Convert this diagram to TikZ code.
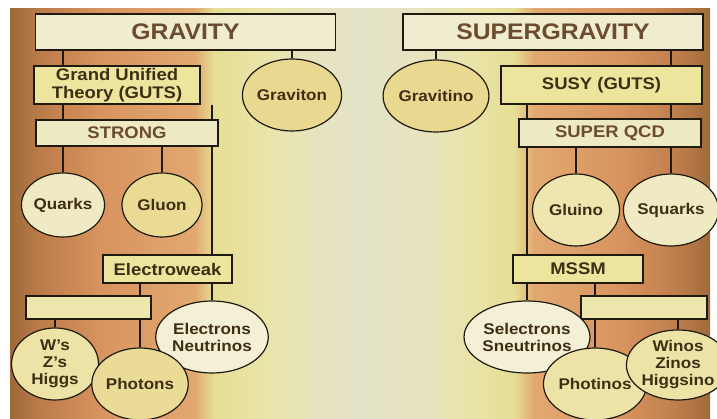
\documentclass[tikz,border=0pt]{standalone}
\usepackage{fontspec}
\setmainfont{Liberation Sans}[FakeStretch=1.1]
\usetikzlibrary{shapes.geometric}
\definecolor{ink}{HTML}{3E2E14}
\definecolor{titlebrown}{HTML}{6B4C30}
\definecolor{paleframe}{HTML}{F0ECD0}
\definecolor{yellowframe}{HTML}{EDE49E}
\definecolor{creamframe}{HTML}{EEEAC4}
\definecolor{blobfill}{HTML}{EDE3A6}
\definecolor{blobcream}{HTML}{EFEAC4}
\definecolor{blobgold}{HTML}{E8D890}
\definecolor{wire}{HTML}{1E1A12}
\definecolor{shA}{HTML}{9E6A3A}
\definecolor{shB}{HTML}{BC7C4A}
\definecolor{shC}{HTML}{D8945E}
\definecolor{shD}{HTML}{E2A870}
\definecolor{shE}{HTML}{E4C482}
\definecolor{shF}{HTML}{E6DE94}
\definecolor{shG}{HTML}{E8E4A8}
\definecolor{shH}{HTML}{E6E4C0}
\definecolor{shI}{HTML}{E4E2C6}
\pgfdeclarelayer{bg}
\pgfdeclarelayer{wires}
\pgfsetlayers{bg,wires,main}

\begin{document}
\begin{tikzpicture}[x=1pt, y=-1pt,
    every node/.style={font=\bfseries\fontsize{15.5}{17}\selectfont, text=ink},
    frame/.style={draw=wire, line width=1.3pt, fill=creamframe, inner sep=0pt,
      font=\bfseries\fontsize{16.8}{18}\selectfont},
    headframe/.style={frame, fill=paleframe, minimum width=300pt, minimum height=36pt,
      font=\bfseries\fontsize{22.5}{24}\selectfont, text=titlebrown},
    blob/.style={ellipse, draw=wire, line width=1.2pt, fill=blobfill,
      inner sep=0pt, align=center, minimum width=87pt, minimum height=72pt},
    link/.style={line width=2.4pt, wire}
]
  \useasboundingbox (0,0) rectangle (717,419);
  % background: strips blended between colour stops
  \begin{pgfonlayer}{bg}
    \clip (10,8) rectangle (710,419);
    \foreach \xa/\xb/\ca/\cb in {10/40/shA/shB, 40/100/shB/shC, 100/195/shC/shD,
        195/205/shD/shE, 205/214/shE/shF, 214/260/shF/shG, 260/320/shG/shH,
        320/360/shH/shI, 360/420/shI/shH, 420/470/shH/shG, 470/515/shG/shF,
        515/524/shF/shE, 524/534/shE/shD, 534/620/shD/shC, 620/680/shC/shB,
        680/710/shB/shA}{
      \foreach \i [evaluate=\i as \pct using int(5*\i),
                   evaluate=\i as \xl using \xa+(\xb-\xa)*\i/20,
                   evaluate=\i as \xr using \xa+(\xb-\xa)*(\i+1)/20+0.6] in {0,...,19}
        \fill[\cb!\pct!\ca] (\xl,8) rectangle (\xr,419);
    }
  \end{pgfonlayer}

  % gravity side
  \node[headframe] (gravity) at (185.5,32) {GRAVITY};
  \node[frame, fill=yellowframe, minimum width=166pt, minimum height=38pt, align=center]
    (gut) at (117,85) {Grand Unified\\Theory (GUTS)};
  \node[frame, minimum width=182pt, minimum height=26pt, text=titlebrown]
    (strong) at (127,133) {STRONG};
  \node[blob, fill=blobgold] (graviton) at (292,95) {Graviton};
  \node[blob, fill=blobcream, minimum width=80pt, minimum height=64pt] (quarks) at (63,205) {Quarks};
  \node[blob, fill=blobgold!80!blobfill, minimum width=80pt, minimum height=64pt] (gluon) at (162,205) {Gluon};
  \node[frame, fill=yellowframe, minimum width=129pt, minimum height=28pt] (ewk) at (167.5,269) {Electroweak};
  \node[frame, fill=yellowframe!60!creamframe, minimum width=125pt, minimum height=23pt] (lbox) at (88.5,307.5) {};
  \node[blob, fill=blobcream!70!white] (electrons) at (212,337) {Electrons\\Neutrinos};
  \node[blob, fill=blobfill, minimum width=87pt, minimum height=72pt] (wzh) at (55,364) {W's\\Z's\\Higgs};
  \node[blob, fill=blobgold!70!blobfill] (photons) at (140,384) {Photons};

  % supergravity side
  \node[headframe] (sgravity) at (553,32) {SUPERGRAVITY};
  \node[frame, fill=yellowframe, minimum width=201pt, minimum height=38pt]
    (susy) at (601.5,85) {SUSY (GUTS)};
  \node[frame, minimum width=182pt, minimum height=28pt, text=titlebrown]
    (sqcd) at (610,133) {SUPER QCD};
  \node[blob, fill=blobgold] (gravitino) at (436,96) {Gravitino};
  \node[blob, fill=blobfill!70!blobcream] (gluino) at (576,210) {Gluino};
  \node[blob, fill=blobcream] (squarks) at (671,210) {Squarks};
  \node[frame, fill=yellowframe, minimum width=130pt, minimum height=28pt] (mssm) at (578,269) {MSSM};
  \node[frame, fill=yellowframe!60!creamframe, minimum width=126pt, minimum height=23pt] (rbox) at (644,307.5) {};
  \node[blob, fill=blobcream!70!white] (selectrons) at (527,337) {Selectrons\\Sneutrinos};
  \node[blob, fill=blobfill] (photinos) at (595,384) {Photinos};
  \node[blob, fill=blobfill, minimum width=82pt, minimum height=70pt] (winos) at (678,365) {Winos\\Zinos\\Higgsino};

  \begin{pgfonlayer}{wires}
    \draw[link] (gravity.south -| quarks) -- (quarks.north);
    \draw[link] (gravity.south -| graviton) -- (graviton.north);
    \draw[link] (strong.south -| gluon) -- (gluon.north);
    \draw[link] (gut.south -| electrons) -- (electrons.north);
    \draw[link] (ewk.south -| photons) -- (photons.north);
    \draw[link] (lbox.south -| wzh) -- (wzh.north);

    \draw[link] (sgravity.south -| gravitino) -- (gravitino.north);
    \draw[link] (sgravity.south -| squarks) -- (squarks.north);
    \draw[link] (susy.south -| selectrons) -- (selectrons.north);
    \draw[link] (sqcd.south -| gluino) -- (gluino.north);
    \draw[link] (mssm.south -| photinos) -- (photinos.north);
    \draw[link] (rbox.south -| winos) -- (winos.north);
  \end{pgfonlayer}
\end{tikzpicture}
\end{document}
